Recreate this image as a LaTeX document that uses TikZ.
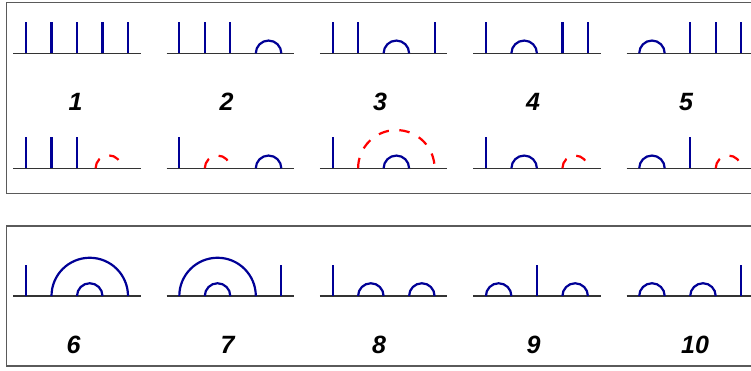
\documentclass[tikz,border=0pt]{standalone}
\usepackage{fontspec}
\setmainfont{Liberation Sans}
\definecolor{navy}{RGB}{0,0,150}
\definecolor{frame}{RGB}{90,90,90}
\newcommand\stk[1]{\draw[stkline] ({12.7+25.5*(#1-1)},0) -- ++(0,31.5);}
\newcommand\barc[2]{\draw[arcline] ({12.7+25.5*(#1-1)},0) arc[start angle=180,end angle=0,radius={12.75*(#2-#1)}];}
\newcommand\rarc[2]{\draw[redarc] (#1,0) arc[start angle=180,end angle=0,radius=#2];}
\newcommand\baseln{\draw[baseline] (0,0) -- (127.5,0);}
\tikzset{
  stkline/.style={navy,line width=2.2pt},
  arcline/.style={navy,line width=2.2pt},
  redarc/.style={red,line width=2.2pt,dash pattern=on 10.5pt off 10.5pt},
  baseline/.style={black!80,line width=1.2pt},
  panel/.style={frame,line width=1.3pt},
  lbl/.style={font=\fontsize{25}{25}\selectfont\bfseries\itshape,inner sep=0pt}
}
\begin{document}
\begin{tikzpicture}[x=1pt,y=1pt]
\useasboundingbox (0,0) rectangle (751,-370);
\clip (0,0) rectangle (751,-370);
\fill[white] (0,0) rectangle (751,-370);
% panels
\draw[panel] (6.7,-2.7) rectangle (760,-193.3);
\draw[panel] (6.7,-226) rectangle (760,-366);
% ---------- top row ----------
\begin{scope}[shift={(13.3,-53.3)}] \baseln \stk1 \stk2 \stk3 \stk4 \stk5 \end{scope}
\begin{scope}[shift={(166.6,-53.3)}] \baseln \stk1 \stk2 \stk3 \barc45 \end{scope}
\begin{scope}[shift={(319.9,-53.3)}] \baseln \stk1 \stk2 \barc34 \stk5 \end{scope}
\begin{scope}[shift={(473.2,-53.3)}] \baseln \stk1 \barc23 \stk4 \stk5 \end{scope}
\begin{scope}[shift={(626.5,-53.3)}] \baseln \barc12 \stk3 \stk4 \stk5 \end{scope}
% ---------- second row ----------
\begin{scope}[shift={(13.3,-168.3)}] \baseln \stk1 \stk2 \stk3 \rarc{82.3}{13} \end{scope}
\begin{scope}[shift={(166.6,-168.3)}] \baseln \stk1 \rarc{38.2}{12.75} \barc45 \end{scope}
\begin{scope}[shift={(319.9,-168.3)}] \baseln \stk1 \rarc{38.2}{38.25} \barc34 \end{scope}
\begin{scope}[shift={(473.2,-168.3)}] \baseln \stk1 \barc23 \rarc{89.2}{12.75} \end{scope}
\begin{scope}[shift={(626.5,-168.3)}] \baseln \barc12 \stk3 \rarc{89.2}{12.75} \end{scope}
% labels top
\node[lbl] (l1) at (75.5,-102) {1};
\node[lbl] (l2) at (226.5,-102) {2};
\node[lbl] (l3) at (380,-102) {3};
\node[lbl] (l4) at (533,-102) {4};
\node[lbl] (l5) at (686,-102) {5};
% ---------- bottom panel ----------
\begin{scope}[shift={(13.3,-296)}] \baseln \stk1 \barc25 \barc34 \end{scope}
\begin{scope}[shift={(166.6,-296)}] \baseln \barc14 \barc23 \stk5 \end{scope}
\begin{scope}[shift={(319.9,-296)}] \baseln \stk1 \barc23 \barc45 \end{scope}
\begin{scope}[shift={(473.2,-296)}] \baseln \barc12 \stk3 \barc45 \end{scope}
\begin{scope}[shift={(626.5,-296)}] \baseln \barc12 \barc34 \stk5 \end{scope}
\node[lbl] (l6) at (73.5,-345) {6};
\node[lbl] (l7) at (227.5,-345) {7};
\node[lbl] (l8) at (379,-345) {8};
\node[lbl] (l9) at (533.5,-345) {9};
\node[lbl] (l10) at (695,-345) {10};
\end{tikzpicture}
\end{document}
